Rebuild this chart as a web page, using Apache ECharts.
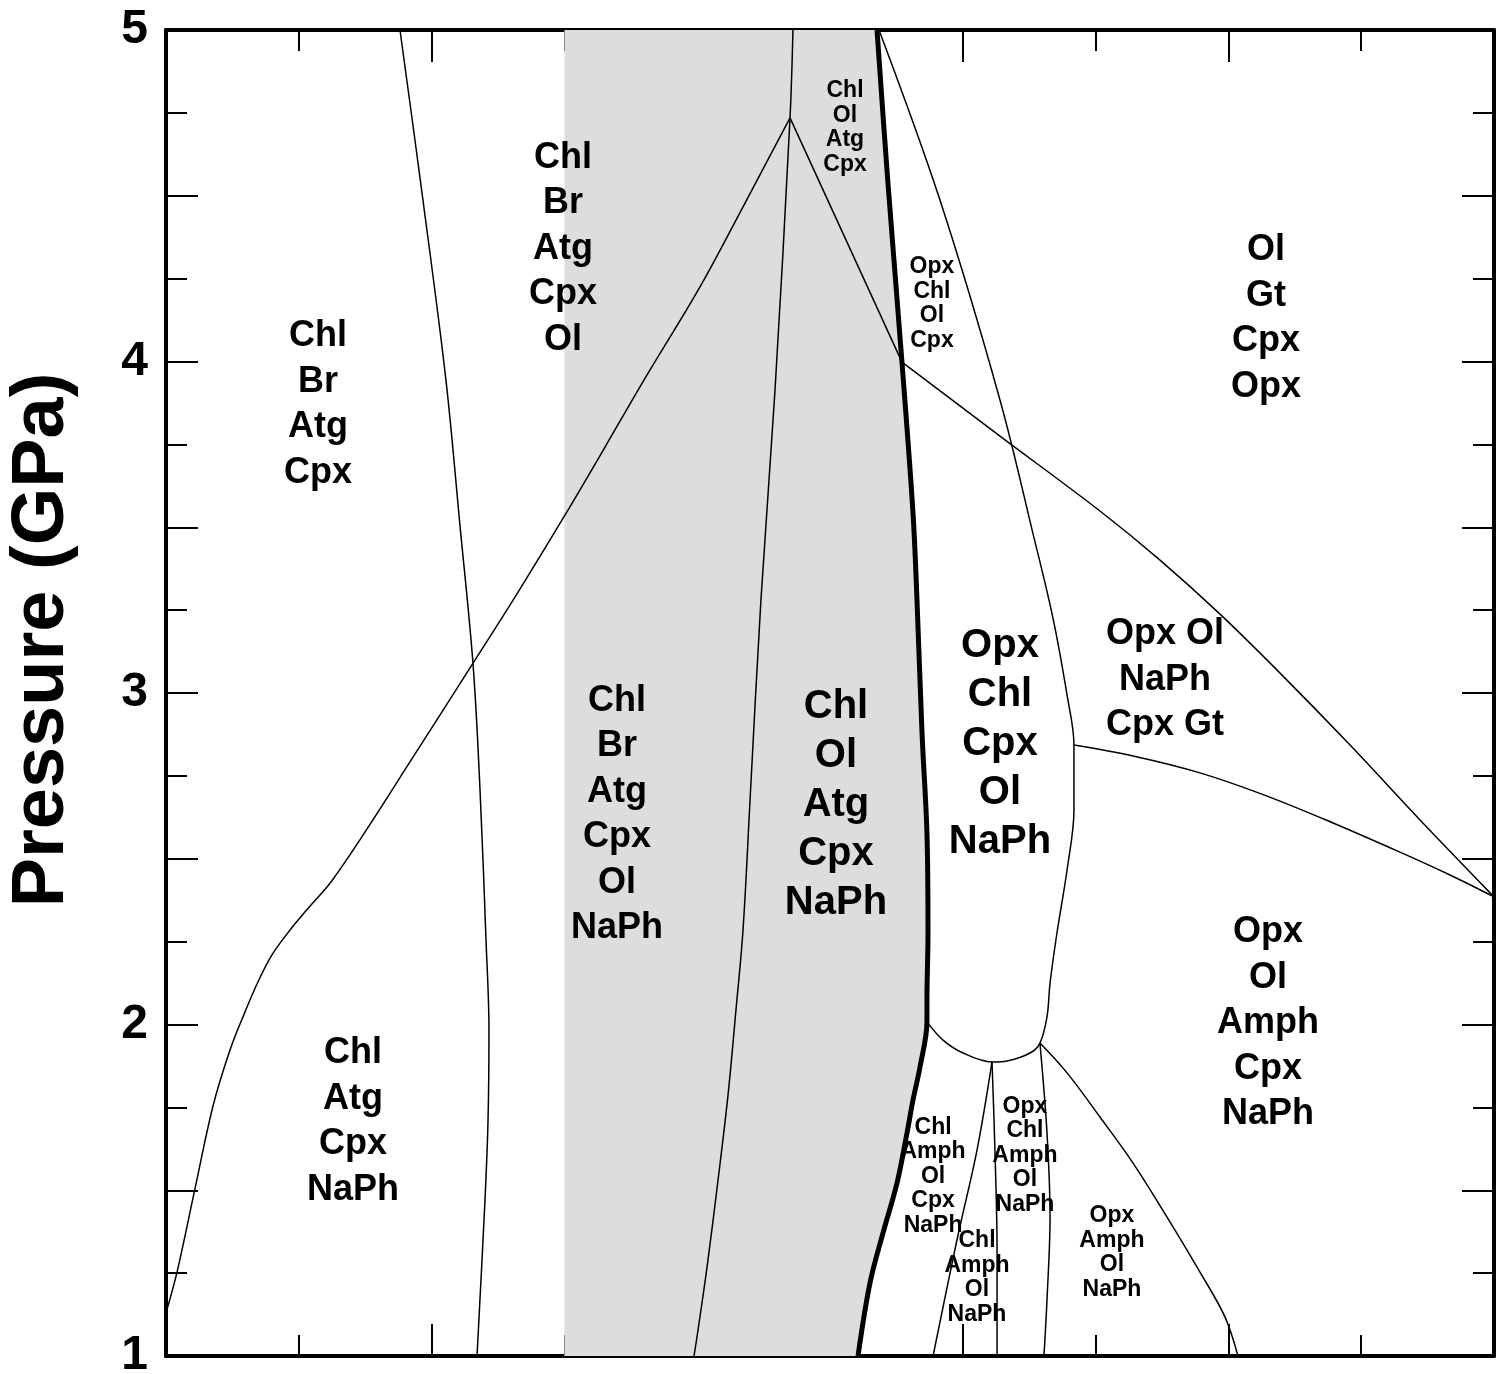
<!DOCTYPE html>
<html><head><meta charset="utf-8">
<script src="https://cdn.jsdelivr.net/npm/echarts@6/dist/echarts.min.js"></script>
<style>html,body{margin:0;padding:0;background:#fff}#chart{width:1506px;height:1374px}</style>
</head><body><div id="chart"></div>
<script>
// ---------- data (x: unlabeled temperature-like axis 0..10, y: pressure GPa) ----------
const pressureTickLabels = ['1', '2', '3', '4', '5'];

const brOutCurve = [[1.762,5.0],[1.935,4.487],[2.108,3.944],[2.214,3.504],[2.312,3.087],[2.364,2.713],[2.410,2.252],[2.432,1.983],[2.425,1.712],[2.402,1.471],[2.342,1.0]];
const diagonalCurve = [[0,1.130],[0.083,1.253],[0.218,1.504],[0.354,1.754],[0.482,1.923],[0.595,2.038],[0.693,2.129],[0.798,2.210],[0.934,2.285],[1.084,2.357],[1.242,2.430],[1.514,2.590],[1.837,2.792],[2.312,3.090],[2.643,3.299],[3.005,3.537],[3.306,3.742],[3.599,3.944],[4.021,4.225],[4.360,4.478],[4.699,4.735]];
const chlOlCurve = [[4.721,5.0],[4.699,4.735],[4.586,3.914],[4.480,3.281],[4.398,2.677],[4.345,2.285],[4.292,2.044],[4.232,1.787],[4.157,1.531],[4.074,1.268],[4.006,1.078],[3.976,1.0]];
const upperJoinCurve = [[4.699,4.735],[5.542,3.998]];
const garnetCurve = [[5.542,3.998],[6.280,3.775],[7.033,3.549],[7.485,3.401],[7.937,3.238],[8.389,3.060],[8.916,2.843],[9.443,2.617],[10,2.385]];
const opxBulbCurve = [[5.369,5.0],[5.828,4.487],[6.280,3.884],[6.529,3.480],[6.679,3.226],[6.785,2.994],[6.837,2.843],[6.837,2.647],[6.785,2.466],[6.709,2.276],[6.657,2.125],[6.634,2.023],[6.581,1.944],[6.506,1.914],[6.333,1.890],[6.220,1.887],[6.002,1.914],[5.851,1.953],[5.730,2.008]];
const lowCurveG = [[6.220,1.887],[6.107,1.621],[5.956,1.350],[5.776,1.0]];
const lowCurveH = [[6.220,1.887],[6.242,1.621],[6.258,1.320],[6.258,1.0]];
const lowCurveI = [[6.581,1.944],[6.634,1.673],[6.657,1.419],[6.634,1.169],[6.611,1.0]];
const lowCurveJ = [[6.581,1.944],[6.785,1.854],[7.033,1.721],[7.282,1.582],[7.538,1.419],[7.786,1.253],[7.974,1.118],[8.072,1.0]];
const gtInCurve = [[6.837,2.843],[7.282,2.810],[7.786,2.759],[8.291,2.689],[8.788,2.608],[9.292,2.520],[9.669,2.451],[10,2.385]];
const atgOutCurve = [[5.354,5.0],[5.437,4.535],[5.542,3.998],[5.625,3.543],[5.655,3.281],[5.693,2.879],[5.730,2.578],[5.738,2.276],[5.730,2.074],[5.730,2.008],[5.678,1.872],[5.625,1.772],[5.580,1.673],[5.505,1.522],[5.399,1.371],[5.301,1.220],[5.211,1.0]];
const grayEdgeX = 3.0;

const mediumLabels = [
  [1.145, 3.878, 'Chl\nBr\nAtg\nCpx'],
  [2.990, 4.348, 'Chl\nBr\nAtg\nCpx\nOl'],
  [8.283, 4.137, 'Ol\nGt\nCpx\nOpx'],
  [3.396, 2.641, 'Chl\nBr\nAtg\nCpx\nOl\nNaPh'],
  [7.523, 3.048, 'Opx Ol\nNaPh\nCpx Gt'],
  [8.298, 2.011, 'Opx\nOl\nAmph\nCpx\nNaPh'],
  [1.408, 1.715, 'Chl\nAtg\nCpx\nNaPh']
];
const largeLabels = [
  [5.045, 2.671, 'Chl\nOl\nAtg\nCpx\nNaPh'],
  [6.280, 2.855, 'Opx\nChl\nCpx\nOl\nNaPh']
];
const smallLabels = [
  [5.113, 4.713, 'Chl\nOl\nAtg\nCpx'],
  [5.768, 4.182, 'Opx\nChl\nOl\nCpx'],
  [5.776, 1.549, 'Chl\nAmph\nOl\nCpx\nNaPh'],
  [6.468, 1.612, 'Opx\nChl\nAmph\nOl\nNaPh'],
  [6.107, 1.244, 'Chl\nAmph\nOl\nNaPh'],
  [7.123, 1.320, 'Opx\nAmph\nOl\nNaPh']
];

// ---------- chart ----------
const FONT = "'Liberation Sans', Arial, Helvetica, sans-serif";
const chart = echarts.init(document.getElementById('chart'), null, {renderer: 'canvas'});

const axisCommon = {
  axisLine: {show: true, onZero: false, lineStyle: {color: '#000', width: 4}},
  axisTick: {show: true, inside: true, length: 32, lineStyle: {color: '#000', width: 2}},
  minorTick: {show: true, splitNumber: 2, length: 21, lineStyle: {color: '#000', width: 2}},
  splitLine: {show: false},
  minorSplitLine: {show: false}
};

function lineSeries(data, width) {
  return {type: 'line', data: data, symbol: 'none', showSymbol: false, smooth: 0.35,
    lineStyle: {color: '#000', width: width}, silent: true, z: width > 3 ? 4 : 3, animation: false};
}
function labelSeries(data, fontSize, lineHeight) {
  return {type: 'custom', data: data.map(d => [d[0], d[1]]), silent: true, z: 6, animation: false,
    renderItem: (params, api) => {
      const pt = api.coord([api.value(0), api.value(1)]);
      return {type: 'text', x: pt[0], y: pt[1] + 2.5,
        style: {text: data[params.dataIndex][2], fill: '#000', fontFamily: FONT, fontWeight: 'bold',
          fontSize: fontSize, lineHeight: lineHeight, align: 'center', verticalAlign: 'middle'}};
    }};
}

const grayPolygon = [[grayEdgeX, 1], [grayEdgeX, 5]].concat(atgOutCurve);

const option = {
  backgroundColor: '#fff',
  animation: false,
  grid: {left: 166, right: 12, top: 30, bottom: 18, containLabel: false, outerBoundsMode: 'none'},
  xAxis: [
    Object.assign({type: 'value', min: 0, max: 10, interval: 2, position: 'bottom', axisLabel: {show: false}}, axisCommon),
    Object.assign({type: 'value', min: 0, max: 10, interval: 2, position: 'top', axisLabel: {show: false}}, axisCommon)
  ],
  yAxis: [
    Object.assign({type: 'value', min: 1, max: 5, interval: 0.5, position: 'left',
      axisLabel: {show: true, margin: 18, color: '#000', fontFamily: FONT, fontWeight: 'bold', fontSize: 48,
        formatter: v => pressureTickLabels.includes(String(v)) ? String(v) : ''},
      name: 'Pressure (GPa)', nameLocation: 'middle', nameGap: 86,
      nameTextStyle: {color: '#000', fontFamily: FONT, fontWeight: 'bold', fontSize: 74, padding: [0, 0, 0, 106]}
    }, axisCommon),
    Object.assign({type: 'value', min: 1, max: 5, interval: 0.5, position: 'right', axisLabel: {show: false}}, axisCommon)
  ],
  series: [
    {type: 'custom', silent: true, z: 1, animation: false, data: [[grayEdgeX, 1]],
      renderItem: (params, api) => ({type: 'polygon',
        shape: {points: grayPolygon.map(p => api.coord(p))},
        style: {fill: '#dcdddc'}})},
    lineSeries(brOutCurve, 1.5),
    lineSeries(diagonalCurve, 1.5),
    lineSeries(chlOlCurve, 1.5),
    Object.assign(lineSeries(upperJoinCurve, 1.5), {smooth: false}),
    lineSeries(garnetCurve, 1.5),
    lineSeries(opxBulbCurve, 1.5),
    lineSeries(lowCurveG, 1.5),
    lineSeries(lowCurveH, 1.5),
    lineSeries(lowCurveI, 1.5),
    lineSeries(lowCurveJ, 1.5),
    lineSeries(gtInCurve, 1.5),
    lineSeries(atgOutCurve, 5),
    labelSeries(mediumLabels, 36, 45.5),
    labelSeries(largeLabels, 40, 49),
    labelSeries(smallLabels, 23, 24.5)
  ]
};
chart.setOption(option);
</script>
</body></html>
